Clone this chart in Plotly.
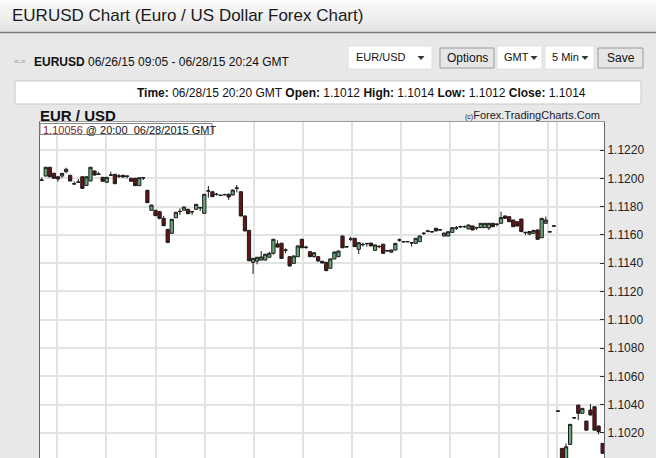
import plotly.graph_objects as go

W, H = 656, 458
FONT = "Liberation Sans, Arial, sans-serif"

# ---------------- data (5-min EUR/USD candles) ----------------
candle_index = list(range(139))
open_ = [1.11985, 1.12016, 1.12078, 1.12035, 1.12011, 1.12016, 1.12047, 1.12021, 1.11962, 1.11974,
         1.12011, 1.11950, 1.11981, 1.12052, 1.12030, 1.12007, 1.11972, 1.12024, 1.12028, 1.12017,
         1.12020, 1.12017, 1.12000, 1.12000, 1.11948, 1.12005, 1.11915, 1.11774, 1.11774, 1.11764,
         1.11717, 1.11639, 1.11611, 1.11721, 1.11767, 1.11774, 1.11781, 1.11765, 1.11781, 1.11793,
         1.11753, 1.11912, 1.11905, 1.11888, 1.11881, 1.11886, 1.11888, 1.11882, 1.11932, 1.11905,
         1.11734, 1.11632, 1.11406, 1.11415, 1.11422, 1.11422, 1.11442, 1.11470, 1.11536, 1.11541,
         1.11494, 1.11446, 1.11399, 1.11446, 1.11569, 1.11514, 1.11481, 1.11446, 1.11446, 1.11413,
         1.11406, 1.11364, 1.11430, 1.11446, 1.11592, 1.11517, 1.11572, 1.11576, 1.11498, 1.11533,
         1.11540, 1.11542, 1.11491, 1.11519, 1.11534, 1.11489, 1.11478, 1.11493, 1.11565, 1.11553,
         1.11551, 1.11545, 1.11540, 1.11552, 1.11612, 1.11628, 1.11623, 1.11647, 1.11637, 1.11592,
         1.11592, 1.11618, 1.11650, 1.11659, 1.11657, 1.11642, 1.11663, 1.11652, 1.11651, 1.11651,
         1.11649, 1.11682, 1.11677, 1.11682, 1.11734, 1.11729, 1.11705, 1.11693, 1.11712, 1.11618,
         1.11606, 1.11611, 1.11635, 1.11580, 1.11682, 1.11623, 1.11664, 1.10356, 1.10091, 1.09990,
         1.10119, 1.10308, 1.10397, 1.10339, 1.10284, 1.10362, 1.10385, 1.10249, 1.10126]
high = [1.12005, 1.12080, 1.12080, 1.12040, 1.12013, 1.12037, 1.12075, 1.12025, 1.11979, 1.11995,
        1.12015, 1.12013, 1.12080, 1.12055, 1.12045, 1.12010, 1.12009, 1.12047, 1.12031, 1.12030,
        1.12028, 1.12018, 1.12003, 1.12003, 1.12006, 1.12006, 1.11918, 1.11813, 1.11776, 1.11770,
        1.11733, 1.11642, 1.11713, 1.11762, 1.11788, 1.11799, 1.11784, 1.11766, 1.11818, 1.11795,
        1.11889, 1.11946, 1.11908, 1.11897, 1.11884, 1.11890, 1.11890, 1.11920, 1.11953, 1.11908,
        1.11736, 1.11635, 1.11436, 1.11444, 1.11486, 1.11466, 1.11480, 1.11571, 1.11562, 1.11544,
        1.11505, 1.11448, 1.11454, 1.11525, 1.11572, 1.11523, 1.11484, 1.11477, 1.11448, 1.11418,
        1.11409, 1.11433, 1.11482, 1.11489, 1.11595, 1.11518, 1.11587, 1.11578, 1.11547, 1.11545,
        1.11542, 1.11545, 1.11531, 1.11529, 1.11537, 1.11491, 1.11495, 1.11542, 1.11575, 1.11555,
        1.11556, 1.11547, 1.11578, 1.11595, 1.11620, 1.11636, 1.11624, 1.11649, 1.11638, 1.11615,
        1.11625, 1.11653, 1.11663, 1.11665, 1.11666, 1.11672, 1.11665, 1.11653, 1.11684, 1.11684,
        1.11684, 1.11684, 1.11678, 1.11764, 1.11736, 1.11731, 1.11707, 1.11695, 1.11714, 1.11623,
        1.11626, 1.11634, 1.11637, 1.11719, 1.11730, 1.11624, 1.11665, 1.10357, 1.10093, 1.10126,
        1.10263, 1.10309, 1.10399, 1.10376, 1.10286, 1.10404, 1.10387, 1.10251, 1.10128]
low = [1.11983, 1.12014, 1.12008, 1.11998, 1.11976, 1.12004, 1.12035, 1.11979, 1.11958, 1.11970,
       1.11927, 1.11948, 1.11979, 1.12020, 1.12026, 1.11977, 1.11970, 1.12020, 1.11960, 1.12002,
       1.12003, 1.11998, 1.11977, 1.11946, 1.11946, 1.11988, 1.11826, 1.11772, 1.11734, 1.11710,
       1.11662, 1.11545, 1.11609, 1.11719, 1.11740, 1.11772, 1.11748, 1.11740, 1.11779, 1.11769,
       1.11750, 1.11863, 1.11868, 1.11878, 1.11876, 1.11880, 1.11847, 1.11880, 1.11901, 1.11732,
       1.11626, 1.11415, 1.11324, 1.11392, 1.11420, 1.11420, 1.11438, 1.11460, 1.11512, 1.11432,
       1.11470, 1.11378, 1.11396, 1.11444, 1.11507, 1.11500, 1.11444, 1.11440, 1.11413, 1.11398,
       1.11345, 1.11361, 1.11428, 1.11444, 1.11507, 1.11514, 1.11556, 1.11515, 1.11465, 1.11517,
       1.11517, 1.11520, 1.11489, 1.11505, 1.11468, 1.11485, 1.11476, 1.11491, 1.11552, 1.11549,
       1.11549, 1.11517, 1.11538, 1.11550, 1.11600, 1.11618, 1.11620, 1.11626, 1.11634, 1.11590,
       1.11590, 1.11616, 1.11635, 1.11650, 1.11650, 1.11640, 1.11633, 1.11635, 1.11649, 1.11649,
       1.11635, 1.11656, 1.11659, 1.11680, 1.11715, 1.11691, 1.11656, 1.11661, 1.11621, 1.11599,
       1.11598, 1.11609, 1.11567, 1.11578, 1.11680, 1.11620, 1.11661, 1.10353, 1.09950, 1.09960,
       1.10117, 1.10305, 1.10291, 1.10337, 1.10218, 1.10325, 1.10218, 1.10190, 1.10054]
close = [1.11988, 1.12078, 1.12011, 1.12000, 1.11995, 1.12035, 1.12064, 1.11981, 1.11960, 1.11972,
         1.11929, 1.12011, 1.12078, 1.12023, 1.12028, 1.11979, 1.12007, 1.12022, 1.11962, 1.12015,
         1.12010, 1.12014, 1.11979, 1.11948, 1.12004, 1.12003, 1.11828, 1.11811, 1.11736, 1.11717,
         1.11665, 1.11547, 1.11710, 1.11760, 1.11765, 1.11797, 1.11750, 1.11763, 1.11816, 1.11791,
         1.11887, 1.11910, 1.11870, 1.11886, 1.11879, 1.11884, 1.11868, 1.11917, 1.11930, 1.11734,
         1.11628, 1.11417, 1.11434, 1.11442, 1.11444, 1.11463, 1.11470, 1.11569, 1.11514, 1.11434,
         1.11492, 1.11380, 1.11451, 1.11522, 1.11509, 1.11512, 1.11446, 1.11474, 1.11415, 1.11402,
         1.11347, 1.11430, 1.11479, 1.11486, 1.11509, 1.11515, 1.11570, 1.11517, 1.11545, 1.11531,
         1.11538, 1.11522, 1.11529, 1.11517, 1.11470, 1.11487, 1.11493, 1.11540, 1.11563, 1.11551,
         1.11553, 1.11543, 1.11576, 1.11592, 1.11610, 1.11626, 1.11621, 1.11628, 1.11635, 1.11613,
         1.11622, 1.11651, 1.11648, 1.11657, 1.11659, 1.11670, 1.11635, 1.11650, 1.11682, 1.11682,
         1.11682, 1.11658, 1.11675, 1.11722, 1.11717, 1.11693, 1.11658, 1.11663, 1.11623, 1.11616,
         1.11624, 1.11632, 1.11569, 1.11717, 1.11705, 1.11621, 1.11662, 1.10354, 1.09980, 1.10102,
         1.10261, 1.10306, 1.10339, 1.10374, 1.10220, 1.10327, 1.10220, 1.10209, 1.10056]

y_tick_values = [1.1000, 1.1020, 1.1040, 1.1060, 1.1080, 1.1100, 1.1120, 1.1140, 1.1160, 1.1180,
                 1.1200, 1.1220, 1.1240]
y_tick_labels = ["1.1000", "1.1020", "1.1040", "1.1060", "1.1080", "1.1100", "1.1120", "1.1140",
                 "1.1160", "1.1180", "1.1200", "1.1220", "1.1240"]
hour_grid = [3.84 + 12.08 * k for k in range(11)] + [126.8]


def fx(px):
    return px / W


def fy(py):
    return 1 - py / H


fig = go.Figure(go.Candlestick(
    x=candle_index, open=open_, high=high, low=low, close=close,
    increasing=dict(line=dict(color="#1c1c1c", width=1), fillcolor="#6aa97a"),
    decreasing=dict(line=dict(color="#1c1c1c", width=1), fillcolor="#6b1111"),
    whiskerwidth=0, hoverinfo="skip", showlegend=False,
))

shapes = []
n = 10
for i in range(n):
    v = int(252 - (252 - 228) * i / (n - 1))
    shapes.append(dict(type="rect", xref="paper", yref="paper",
                       x0=0, x1=1, y0=fy(32 * (i + 1) / n), y1=fy(32 * i / n),
                       fillcolor=f"rgb({v},{v},{v})", line=dict(width=0), layer="below"))
shapes.append(dict(type="line", xref="paper", yref="paper", x0=0, x1=1, y0=fy(32.5), y1=fy(32.5),
                   line=dict(color="#7a7a7a", width=1.5)))


def box(x0, y0, x1, y1, fill, border):
    shapes.append(dict(type="rect", xref="paper", yref="paper",
                       x0=fx(x0), x1=fx(x1), y0=fy(y1), y1=fy(y0),
                       fillcolor=fill, line=dict(color=border, width=1)))


def arrow(xc, yc):
    shapes.append(dict(type="path", xref="paper", yref="paper",
                       path=f"M {fx(xc-3.5)},{fy(yc-2)} L {fx(xc+3.5)},{fy(yc-2)} L {fx(xc)},{fy(yc+2)} Z",
                       fillcolor="#333", line=dict(width=0)))


box(348, 46, 432, 69, "white", "#e0e0e0")
arrow(421, 58)
box(440, 48, 494, 68, "#e6e6e6", "#9a9a9a")
box(497, 46, 542, 69, "white", "#e0e0e0")
arrow(534, 58)
box(545, 46, 594, 69, "white", "#e0e0e0")
arrow(585, 58)
box(598, 48, 643, 68, "#e6e6e6", "#9a9a9a")
box(15, 81, 641, 104, "white", "#c8c8c8")
shapes.append(dict(type="rect", xref="paper", yref="paper", x0=fx(40), x1=fx(212),
                   y0=fy(134.5), y1=fy(123.5), fillcolor="white",
                   line=dict(color="#888", width=1), layer="above"))

ann = []


def text(x, y, s, size=12, color="#111", anchor="left", family=FONT):
    ann.append(dict(xref="paper", yref="paper", x=fx(x), y=fy(y), text=s, showarrow=False,
                    xanchor=anchor, yanchor="middle",
                    font=dict(family=family, size=size, color=color)))


text(10, 15, "EURUSD Chart (Euro / US Dollar Forex Chart)", size=17, color="#1a1a1a")
text(12, 62, "«-»", size=8, color="#9a9a9a")
text(32, 62, "<b>EURUSD</b> 06/26/15 09:05 - 06/28/15 20:24 GMT", size=12, color="#111")
text(354, 57.5, "EUR/USD", size=11)
text(467, 58, "Options", size=12, anchor="center")
text(502, 57.5, "GMT", size=11)
text(550, 57.5, "5 Min", size=11)
text(620.5, 58, "Save", size=12, anchor="center")
text(361, 92.5, "<b>Time:</b> 06/28/15 20:20 GMT <b>Open:</b> 1.1012 <b>High:</b> 1.1014 "
     "<b>Low:</b> 1.1012 <b>Close:</b> 1.1014", size=12, anchor="center")
text(38, 115.5, "<b>EUR / USD</b>", size=15, color="#111")
text(41, 129.5, "<span style='color:#8b1a1a'>1.10056</span> @ 20:00\u00a0\u00a006/28/2015 GMT",
     size=11, color="#111")
text(602, 115, "<span style='font-size:7px'>(c)</span>Forex.TradingCharts.Com", size=11,
     color="#1a1a2a", anchor="right")

fig.update_layout(
    width=W, height=H, margin=dict(l=0, r=0, t=0, b=0),
    paper_bgcolor="#e8e8e8", plot_bgcolor="white",
    font=dict(family=FONT, color="#111"),
    shapes=shapes, annotations=ann, showlegend=False,
    boxgap=0.2, boxgroupgap=0,
    xaxis=dict(domain=[fx(39.5), fx(604)], range=[-0.54, 138.33], tickvals=hour_grid,
               showticklabels=False, ticks="", showgrid=True, gridcolor="#e3e3e3", gridwidth=2,
               showline=True, mirror=True, linecolor="#9a9a9a", linewidth=1, zeroline=False,
               rangeslider=dict(visible=False), fixedrange=True),
    yaxis=dict(domain=[0, fy(122)], range=[1.10023, 1.12398], side="right",
               tickvals=y_tick_values, ticktext=y_tick_labels, ticks="inside", ticklen=4,
               tickcolor="#333", tickfont=dict(size=12, color="#222", family=FONT),
               showgrid=True, gridcolor="#e3e3e3", gridwidth=2, showline=True, mirror=True,
               linecolor="#666", linewidth=1, zeroline=False, fixedrange=True),
)

fig.write_html("out.html", config={"displayModeBar": False},
               post_script="document.body.style.margin='0';document.body.style.overflow='hidden';")
